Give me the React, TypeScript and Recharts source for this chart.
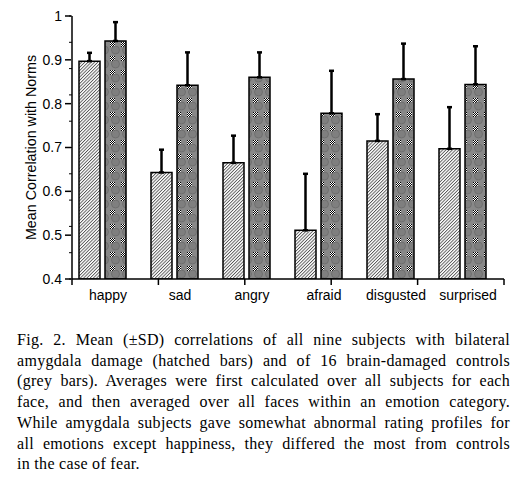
import React from "react";
import { BarChart, Bar, XAxis, YAxis, ErrorBar } from "recharts";

// values
const EMOTIONS = ["happy", "sad", "angry", "afraid", "disgusted", "surprised"];
const AMYGDALA_MEAN = [0.897, 0.643, 0.665, 0.511, 0.715, 0.697];
const AMYGDALA_SD = [0.019, 0.052, 0.062, 0.129, 0.061, 0.095];
const CONTROL_MEAN = [0.943, 0.842, 0.86, 0.778, 0.856, 0.844];
const CONTROL_SD = [0.043, 0.075, 0.057, 0.097, 0.081, 0.087];

const Y_TICKS = [0.4, 0.5, 0.6, 0.7, 0.8, 0.9, 1];
const Y_MINOR_TICKS = [
  0.4, 0.42, 0.44, 0.46, 0.48, 0.5, 0.52, 0.54, 0.56, 0.58, 0.6, 0.62, 0.64,
  0.66, 0.68, 0.7, 0.72, 0.74, 0.76, 0.78, 0.8, 0.82, 0.84, 0.86, 0.88, 0.9,
  0.92, 0.94, 0.96, 0.98, 1,
];
const CATEGORY_EDGES = [0, 1, 2, 3, 4, 5, 6];

const CAPTION_LINES = [
  "Fig. 2. Mean (\u00B1SD) correlations of all nine subjects with bilateral",
  "amygdala damage (hatched bars) and of 16 brain-damaged controls",
  "(grey bars). Averages were first calculated over all subjects for each",
  "face, and then averaged over all faces within an emotion category.",
  "While amygdala subjects gave somewhat abnormal rating profiles for",
  "all emotions except happiness, they differed the most from controls",
  "in the case of fear.",
];

const data = EMOTIONS.map((name, i) => ({
  name,
  amygdala: AMYGDALA_MEAN[i],
  amygdalaErr: [0, AMYGDALA_SD[i]],
  control: CONTROL_MEAN[i],
  controlErr: [0, CONTROL_SD[i]],
}));

const SANS = "'Liberation Sans', Arial, sans-serif";
const SERIF = "'Liberation Serif', 'Times New Roman', serif";

const fmtY = (v: number) => (v === 1 ? "1" : v.toFixed(1));

// tick with no text, so only the tick line is drawn
const NoText = () => <g />;

const axisStroke = { stroke: "#000", strokeWidth: 1.5 };

const YLabel = ({ viewBox }: any) => {
  const cx = viewBox.x + 31;
  const cy = viewBox.y + viewBox.height / 2;
  return (
    <text
      x={cx}
      y={cy}
      transform={`rotate(-90, ${cx}, ${cy})`}
      textAnchor="middle"
      dominantBaseline="central"
      fontFamily={SANS}
      fontSize={14.3}
      fill="#000"
    >
      Mean Correlation with Norms
    </text>
  );
};

export default function App() {
  return (
    <div
      style={{
        position: "absolute",
        left: 0,
        top: 0,
        width: 524,
        height: 485,
        background: "#fff",
      }}
    >
      <BarChart
        width={524}
        height={310}
        data={data}
        margin={{ top: 16, right: 20, bottom: 0, left: 0 }}
        barSize={21}
        barGap={5}
      >
        <defs>
          <pattern
            id="hatch"
            patternUnits="userSpaceOnUse"
            width={2.3}
            height={2.3}
            patternTransform="rotate(45)"
          >
            <rect width={2.3} height={2.3} fill="#fff" />
            <line x1={0.5} y1={0} x2={0.5} y2={2.3} stroke="#000" strokeWidth={0.6} />
          </pattern>
          <pattern id="checker" patternUnits="userSpaceOnUse" width={2} height={2}>
            <rect width={2} height={2} fill="#fff" />
            <rect width={1} height={1} fill="#000" />
            <rect x={1} y={1} width={1} height={1} fill="#000" />
          </pattern>
          <pattern id="greyfill" patternUnits="userSpaceOnUse" width={11} height={14}>
            <rect width={11} height={14} fill="#888" />
            <rect x={0} y={0} width={5} height={5} fill="url(#checker)" />
            <circle cx={5.5} cy={8} r={4} fill="#7f7f7f" stroke="#666" strokeWidth={0.7} />
          </pattern>
        </defs>

        {/* category boundary ticks + the axis line */}
        <XAxis
          xAxisId="edges"
          type="number"
          domain={[0, 6]}
          ticks={CATEGORY_EDGES}
          allowDataOverflow
          tick={NoText}
          axisLine={axisStroke}
          tickLine={axisStroke}
          tickSize={6}
          height={1}
        />
        <XAxis
          xAxisId="labels"
          dataKey="name"
          height={30}
          tickLine={false}
          axisLine={false}
          tickSize={5}
          tickMargin={5}
          tick={{ fill: "#000", fontSize: 14, fontFamily: SANS }}
        />
        <XAxis
          xAxisId="bars"
          dataKey="name"
          hide
          height={0}
          padding={{ left: -6, right: 6 }}
        />

        {/* minor ticks + the axis line, next to the plot */}
        <YAxis
          yAxisId="aMinor"
          domain={[0.4, 1]}
          ticks={Y_MINOR_TICKS}
          allowDataOverflow
          tick={NoText}
          axisLine={axisStroke}
          tickLine={{ stroke: "#000", strokeWidth: 1 }}
          tickSize={3}
          width={1}
        />
        <YAxis
          yAxisId="main"
          domain={[0.4, 1]}
          ticks={Y_TICKS}
          allowDataOverflow
          tickFormatter={fmtY}
          width={71}
          tickSize={6}
          tickMargin={3}
          axisLine={false}
          tickLine={axisStroke}
          tick={{ fill: "#000", fontSize: 14, fontFamily: SANS }}
          label={<YLabel />}
        />

        <Bar
          xAxisId="bars"
          yAxisId="main"
          dataKey="amygdala"
          fill="url(#hatch)"
          stroke="#000"
          strokeWidth={1.5}
          isAnimationActive={false}
        >
          <ErrorBar dataKey="amygdalaErr" direction="y" width={2.5} stroke="#000" strokeWidth={2.5} />
        </Bar>
        <Bar
          xAxisId="bars"
          yAxisId="main"
          dataKey="control"
          fill="url(#greyfill)"
          stroke="#000"
          strokeWidth={1.5}
          isAnimationActive={false}
        >
          <ErrorBar dataKey="controlErr" direction="y" width={2.5} stroke="#000" strokeWidth={2.5} />
        </Bar>
      </BarChart>

      <div
        style={{
          position: "absolute",
          left: 17,
          top: 330,
          width: 493,
          fontFamily: SERIF,
          fontSize: 16,
          lineHeight: "20.7px",
          letterSpacing: 0.3,
          color: "#000",
        }}
      >
        {CAPTION_LINES.map((line, i) => (
          <div
            key={i}
            style={{
              whiteSpace: "nowrap",
              textAlign: "justify",
              textAlignLast: i === CAPTION_LINES.length - 1 ? "left" : "justify",
            }}
          >
            {line}
          </div>
        ))}
      </div>
    </div>
  );
}
